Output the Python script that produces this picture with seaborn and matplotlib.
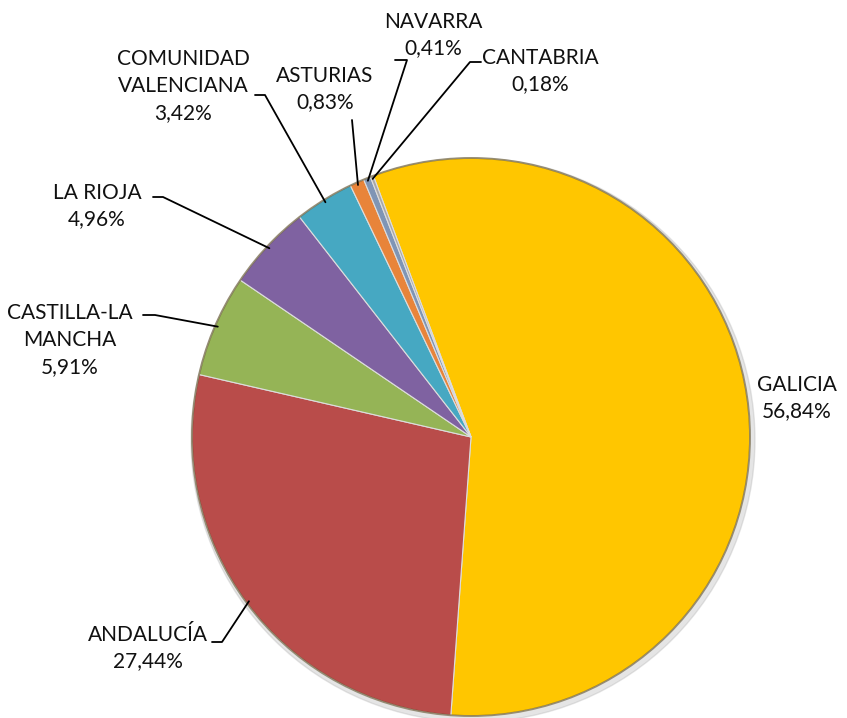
import numpy as np
import matplotlib.pyplot as plt
import seaborn as sns
from matplotlib.patches import Circle

# data
regions = ['GALICIA', 'ANDALUCÍA', 'CASTILLA-LA\nMANCHA', 'LA RIOJA',
           'COMUNIDAD\nVALENCIANA', 'ASTURIAS', 'NAVARRA', 'CANTABRIA']
shares = [56.84, 27.44, 5.91, 4.96, 3.42, 0.83, 0.41, 0.18]
colors = ['#FFC600', '#B94C4A', '#95B456', '#7F62A1', '#46A8C2', '#E8843A',
          '#7F95B5', '#A8A8A8']

# label text positions and leader elbows (pixel coords, y down)
label_pos = [(797, 398), (148, 648), (70, 340), (97, 206),
             (183, 86), (325, 89), (433, 35), (540, 71)]
tails = [None, [(212, 642), (222, 642)], [(143, 315), (155, 315)],
         [(153, 197), (163, 197)], [(255, 95), (265, 95)],
         [(352, 120)], [(395, 60), (407, 60)], [(481, 62), (470, 62)]]

W, H = 847, 718
cx, cy, r = 471, 437, 279
start = 110.5

sns.set_theme(style='white')
plt.rcParams['font.family'] = ['Lato', 'DejaVu Sans']

fig = plt.figure(figsize=(W / 100, H / 100), dpi=100)
ax = fig.add_axes([0, 0, 1, 1])

# soft shadow
ax.add_patch(Circle((cx + 2, H - cy - 3), r + 3, color='#aaaaaa', alpha=0.3, zorder=0))

wedges, _ = ax.pie(shares, colors=colors, startangle=start, counterclock=False,
                   center=(cx, H - cy), radius=r, frame=True,
                   wedgeprops=dict(edgecolor='#dddddd', linewidth=0.8))
ax.set_xlim(0, W)
ax.set_ylim(0, H)
ax.set_aspect('equal')
ax.axis('off')
ax.add_patch(Circle((cx, H - cy), r, fill=False, edgecolor='#5a4a20', lw=1.4, alpha=0.55, zorder=5))

cum = 0
for name, v, pos, tail in zip(regions, shares, label_pos, tails):
    mid = np.deg2rad(start - (cum + v / 2) * 3.6)
    cum += v
    txt = f'{name}\n{v:.2f}%'.replace('.', ',')
    ax.text(pos[0], H - pos[1], txt, ha='center', va='center', fontsize=15,
            linespacing=1.42, color='#111111', zorder=6)
    if tail is None:
        continue
    ex = cx + r * 0.99 * np.cos(mid)
    ey = H - cy + r * 0.99 * np.sin(mid)
    xs = [p[0] for p in tail] + [ex]
    ys = [H - p[1] for p in tail] + [ey]
    ax.plot(xs, ys, color='black', lw=1.3, zorder=6)

plt.savefig('out.png', dpi=100)
